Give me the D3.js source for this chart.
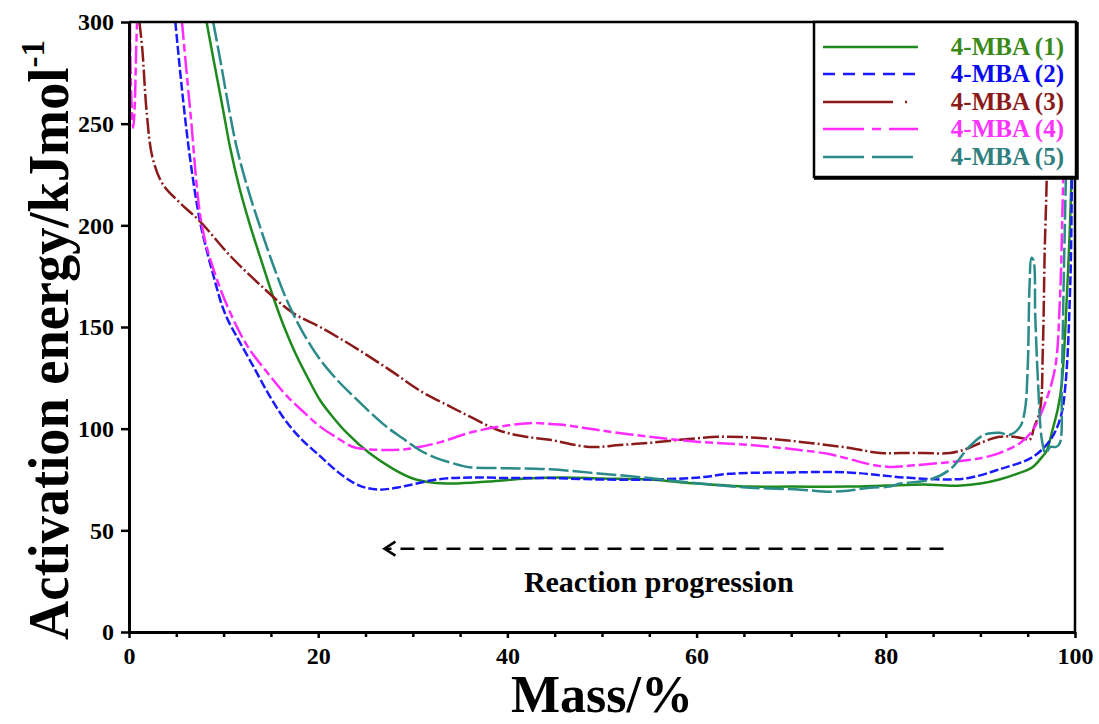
<!DOCTYPE html>
<html>
<head>
<meta charset="utf-8">
<script src="https://cdn.jsdelivr.net/npm/d3@7"></script>
<style>
  body { margin: 0; background: #fff; }
  svg { display: block; }
  text { font-family: "Liberation Serif", "Times New Roman", serif; font-weight: bold; }
</style>
</head>
<body>
<svg id="chart" width="1099" height="724"></svg>
<script>
// Axis ticks
const xMajorTicks = [0, 20, 40, 60, 80, 100];
const xMinorTicks = [5, 10, 15, 25, 30, 35, 45, 50, 55, 65, 70, 75, 85, 90, 95];
const yTicks = [0, 50, 100, 150, 200, 250, 300];

// Series labels
const seriesNames = ["4-MBA (1)", "4-MBA (2)", "4-MBA (3)", "4-MBA (4)", "4-MBA (5)"];

// Activation energy (kJ/mol) versus remaining mass (%); null splits a trace
const mba1 = [[8.2,300],[9.0,280],[9.9,258],[10.7,238],[11.7,218],[12.8,200],[14.1,181],[15.3,164],[16.4,150],[17.6,137],[18.9,125],[20.2,114],[21.5,106],[23,98],[25.4,88],[28,80],[30,75.5],[32,73.5],[34.2,73],[38,74],[42,75.5],[46,76],[50,75.5],[55,75],[60,73],[65.6,71.5],[70,71.5],[76,71.5],[80,72],[84,72.5],[88,72],[90,73],[92,75],[94,78],[95.5,81],[96.5,86],[97,89],[97.6,99],[98.2,110],[98.6,122],[99.2,171],[99.6,220],[99.8,300]];
const mba2 = [[4.9,300],[5.4,276],[5.9,254],[6.6,228],[7.5,202],[8.2,188],[9,174],[9.8,161],[10.5,153],[11.3,146],[13.1,131],[15,115],[16.7,103],[18.4,94],[20.2,86.5],[22,79],[23.7,73.5],[25,71],[26.5,70],[28.9,71.5],[32.5,75],[36,76],[40,75.7],[44.5,75.7],[50,75],[55,75],[60.3,76],[63.4,77.8],[70,78.5],[76,78.5],[79.6,77],[82,76],[86.8,75],[89,76],[92,80],[95.5,86],[97.4,94.5],[98.5,106],[99,122],[99.5,171],[99.7,237],[99.85,300]];
const mba3 = [[1.1,300],[1.4,287],[1.9,254],[2.5,233],[3.6,220],[5.4,211],[7.5,202],[10.7,185],[13.8,171],[17.3,157],[20.2,150],[23.5,141],[27.2,130],[31,118],[33.9,111],[36,106],[39.2,99],[42,96],[44.5,94.5],[48.7,91],[51.9,92],[55,93],[58.2,94.5],[62.5,96],[66.7,95.4],[71,93.5],[76.2,90.5],[79.4,88],[81.5,88],[84,88],[86.8,88],[88.5,90],[90,93],[92,96],[93.5,96],[94.7,95],[95.2,94.5],[95.7,101],[96.3,109],[96.6,139],[96.8,188],[97,221],[97.1,260],[97.2,300]];
const mba4 = [[0.1,300],[0.25,262],[0.45,248],[0.6,258],[0.75,285],[0.85,300],null,[5.6,300],[6.5,255],[7.7,200],[9.1,176],[10.8,156],[12.6,140],[14.9,126],[16.7,116],[18.5,108],[20.2,101],[22,95.5],[23.7,91],[25.5,89.8],[27.2,89.5],[29,89.8],[30.7,91],[33,93.5],[36,98],[39.2,101],[42.3,102.7],[45.5,102],[49.6,99.3],[55,96],[60.3,93.5],[65.6,92],[70.9,89.5],[74,87.5],[76.2,85],[78.3,82.5],[80.4,81.2],[83,82],[86.8,83.6],[90,85.5],[92,88],[94.2,93],[95.5,99],[96.8,112],[97.9,130],[98.4,163],[98.7,212],[98.9,260],[99,300]];
const mba5 = [[8.9,300],[9.7,280],[10.5,259],[11.4,238],[12.5,219],[13.8,200],[15.2,181],[16.7,163],[18.3,148],[20.2,134],[22,124],[23.7,116],[25.5,108],[27.2,101],[29,95],[30.7,89.5],[32.5,85.5],[34.2,83],[36,81],[39.2,80.6],[44.5,80],[49.6,78],[55,75.7],[60.3,73],[65.6,71],[71,70],[74.1,69],[76,69.5],[78.3,71],[80.4,71.5],[81.5,73],[84.6,74.8],[86.8,80],[88.8,91],[90.4,97],[92,98],[93.1,97],[94.2,101],[94.7,109],[95,130],[95.2,171],[95.4,184],[95.6,183],[95.8,155],[96.1,122],[96.5,94.5],[96.9,88],[97.4,91],[98,91],[98.4,93],[98.6,122],[98.8,171],[99.1,240],[99.3,300]];

const seriesData = [mba1, mba2, mba3, mba4, mba5];
const lineColors = ["#1e8a1e", "#1a1aff", "#8b1a1a", "#ff2bff", "#2b8a8a"];
const labelColors = ["#3a8a1a", "#0a0af0", "#8b1a1a", "#ff33ff", "#2f7f7f"];
const curveDash = [null, "9,3", "16,3,2,3", "18,4,8,4", "20,4"];
const legendDash = [null, "12,8", "70,12,2,12", "41,8,9,8", "41,8"];

const svg = d3.select("#chart");
const plotLeft = 129, plotRight = 1075, plotTop = 22, plotBottom = 632;

const x = d3.scaleLinear().domain([0, 100]).range([plotLeft, plotRight]);
const y = d3.scaleLinear().domain([0, 300]).range([plotBottom, plotTop]);

svg.append("defs").append("clipPath").attr("id", "plot-clip")
  .append("rect").attr("x", plotLeft).attr("y", plotTop)
  .attr("width", plotRight - plotLeft).attr("height", plotBottom - plotTop);

// Curves
const line = d3.line()
  .defined(d => d != null)
  .x(d => x(d[0])).y(d => y(d[1]))
  .curve(d3.curveCatmullRom.alpha(0.5));

const curves = svg.append("g").attr("clip-path", "url(#plot-clip)");
seriesData.forEach((data, i) => {
  curves.append("path")
    .datum(data)
    .attr("d", line)
    .attr("fill", "none")
    .attr("stroke", lineColors[i])
    .attr("stroke-width", 2.5)
    .attr("stroke-dasharray", curveDash[i]);
});

// Frame (top and right)
svg.append("path")
  .attr("d", `M${plotLeft},${plotTop}H${plotRight}V${plotBottom}`)
  .attr("fill", "none").attr("stroke", "#000").attr("stroke-width", 2.5);

// X axis: minor then major ticks
svg.append("g")
  .attr("transform", `translate(0,${plotBottom})`)
  .call(d3.axisBottom(x).tickValues(xMinorTicks).tickSize(5).tickFormat(""))
  .call(g => g.select(".domain").remove())
  .call(g => g.selectAll("line").attr("stroke-width", 2.5));

const xAxis = svg.append("g")
  .attr("transform", `translate(0,${plotBottom})`)
  .call(d3.axisBottom(x).tickValues(xMajorTicks).tickSize(6).tickSizeOuter(0).tickPadding(9));
xAxis.select(".domain").attr("stroke-width", 3);
xAxis.selectAll("line").attr("stroke-width", 2.5);
xAxis.selectAll("text").attr("font-size", 24).attr("fill", "#000")
  .style("font-family", '"Liberation Serif", serif').style("font-weight", "bold");

// Y axis
const yAxis = svg.append("g")
  .attr("transform", `translate(${plotLeft},0)`)
  .call(d3.axisLeft(y).tickValues(yTicks).tickSize(8).tickSizeOuter(0).tickPadding(7));
yAxis.select(".domain").attr("stroke-width", 3);
yAxis.selectAll("line").attr("stroke-width", 2.5);
yAxis.selectAll("text").attr("font-size", 24).attr("fill", "#000")
  .style("font-family", '"Liberation Serif", serif').style("font-weight", "bold");

// Axis titles
svg.append("text")
  .attr("x", 602).attr("y", 712)
  .attr("text-anchor", "middle")
  .attr("font-size", 52)
  .text("Mass/%");

const yTitle = svg.append("text")
  .attr("transform", "translate(68,340) rotate(-90)")
  .attr("text-anchor", "middle")
  .attr("font-size", 56)
  .attr("textLength", 600)
  .attr("lengthAdjust", "spacingAndGlyphs");
yTitle.append("tspan").text("Activation energy/kJmol");
yTitle.append("tspan").attr("dy", -24).attr("font-size", 34).text("-1");

// Reaction direction arrow
const arrowY = y(41);
const arrowFrom = x(86.1), arrowTo = x(27);
svg.append("line")
  .attr("x1", arrowFrom).attr("x2", arrowTo + 2)
  .attr("y1", arrowY).attr("y2", arrowY)
  .attr("stroke", "#000").attr("stroke-width", 2.5)
  .attr("stroke-dasharray", "14,9");
svg.append("path")
  .attr("d", `M${arrowTo + 11},${arrowY - 7}L${arrowTo},${arrowY}L${arrowTo + 11},${arrowY + 7}`)
  .attr("fill", "none").attr("stroke", "#000").attr("stroke-width", 2.5);
svg.append("text")
  .attr("x", x(56)).attr("y", y(19.5))
  .attr("text-anchor", "middle")
  .attr("font-size", 30)
  .text("Reaction progression");

// Legend
const legend = svg.append("g");
legend.append("rect")
  .attr("x", 814).attr("y", plotTop).attr("width", 262).attr("height", 155)
  .attr("fill", "#fff").attr("stroke", "#000").attr("stroke-width", 2.5);
legend.append("path")
  .attr("d", `M1077,${plotTop}V178H814`)
  .attr("fill", "none").attr("stroke", "#000").attr("stroke-width", 3.5);
const rowY = [47, 74, 102, 129, 157];
seriesNames.forEach((name, i) => {
  legend.append("line")
    .attr("x1", 823).attr("x2", 918)
    .attr("y1", rowY[i]).attr("y2", rowY[i])
    .attr("stroke", lineColors[i]).attr("stroke-width", 2.5)
    .attr("stroke-dasharray", legendDash[i]);
  legend.append("text")
    .attr("x", 1064).attr("y", rowY[i] + 8)
    .attr("text-anchor", "end")
    .attr("font-size", 25)
    .attr("fill", labelColors[i])
    .text(name);
});
</script>
</body>
</html>
